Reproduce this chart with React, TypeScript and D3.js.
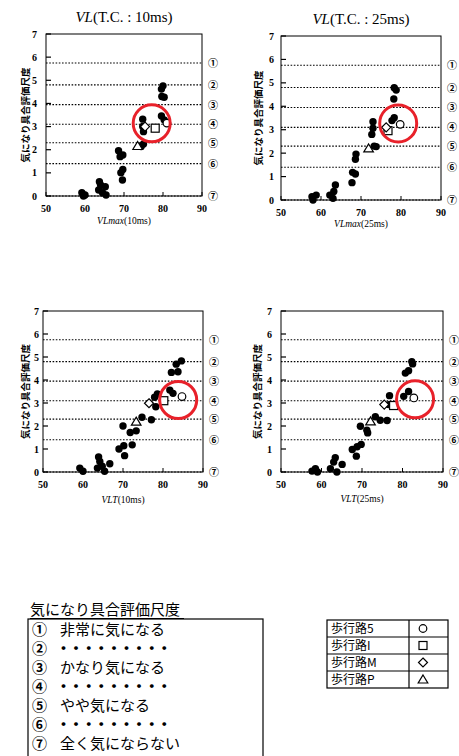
import * as d3 from "d3";

// evaluation levels (dotted lines) and their labels
const levels = [5.75, 4.8, 3.95, 3.1, 2.3, 1.4, 0];
const levelLabels = ["①", "②", "③", "④", "⑤", "⑥", "⑦"];
const xTicks = [50, 60, 70, 80, 90];
const yTicks = [0, 1, 2, 3, 4, 5, 6, 7];

// VLmax(10ms)
const p1X = [59.2, 60.0, 59.6, 63.7, 64.0, 63.5, 64.5, 65.4, 65.2, 68.6, 69.7, 69.0, 69.2, 69.7, 69.6, 74.8, 74.8, 75.0, 75.0, 74.4, 80.0, 79.6, 79.7, 80.3, 79.6, 80.3];
const p1Y = [0.14, 0.04, 0.0, 0.62, 0.48, 0.26, 0.14, 0.04, 0.4, 1.96, 1.77, 1.7, 1.01, 1.15, 0.69, 3.32, 3.0, 2.78, 2.25, 2.14, 4.76, 4.62, 4.3, 4.27, 3.46, 3.29];
// VLmax(25ms)
const p2X = [57.75, 58.8, 58.0, 62.2, 63.0, 63.6, 63.2, 67.75, 67.9, 68.6, 68.6, 68.75, 73.0, 73.0, 72.7, 73.3, 73.8, 78.3, 78.8, 78.2, 78.3, 77.75];
const p2Y = [0.14, 0.21, 0.0, 0.21, 0.07, 0.64, 0.36, 0.74, 1.18, 1.11, 1.74, 1.96, 3.34, 3.06, 2.8, 2.3, 2.28, 4.79, 4.69, 4.31, 3.51, 3.39];
// VLT(10ms)
const p3X = [59.2, 60.0, 63.9, 64.2, 63.6, 65.4, 66.7, 64.8, 70.0, 70.2, 69.0, 70.4, 71.8, 72.3, 73.3, 74.75, 77.1, 78.2, 77.9, 78.6, 82.1, 83.75, 83.3, 84.6, 81.7, 82.5];
const p3Y = [0.17, 0.03, 0.65, 0.46, 0.17, 0.03, 0.36, 0.25, 2.0, 1.14, 1.0, 0.71, 1.72, 1.18, 1.79, 2.38, 2.27, 2.84, 3.25, 3.39, 4.33, 4.36, 4.69, 4.83, 3.56, 3.42];
// VLT(25ms)
const p4X = [57.65, 58.5, 59.0, 62.2, 63.4, 63.0, 63.8, 65.1, 67.6, 68.6, 68.8, 69.8, 69.6, 71.2, 71.4, 73.3, 74.5, 76.2, 76.6, 76.8, 80.3, 81.5, 80.7, 81.5, 82.3, 82.5];
const p4Y = [0.04, 0.14, 0.0, 0.14, 0.62, 0.43, 0.0, 0.33, 0.98, 0.69, 1.1, 1.2, 1.99, 1.82, 1.7, 2.4, 2.25, 2.24, 2.93, 3.32, 3.29, 3.5, 4.3, 4.4, 4.8, 4.7];

// open markers: [x, y] for 歩行路5 (circle), I (square), M (diamond), P (triangle)
const p1Open = [[81.0, 3.15], [78.0, 2.93], [75.4, 3.0], [73.5, 2.16]];
const p2Open = [[79.8, 3.23], [76.75, 2.96], [76.3, 3.1], [71.9, 2.2]];
const p3Open = [[84.75, 3.28], [80.2, 3.1], [76.5, 2.99], [73.3, 2.19]];
const p4Open = [[82.8, 3.22], [77.8, 2.89], [75.5, 2.93], [72.1, 2.2]];

// highlighted region (red ring centres)
const rings = [[77.1, 3.14], [79.3, 3.27], [83.8, 3.13], [83.1, 3.16]];

const scaleItems = ["非常に気になる", "dots", "かなり気になる", "dots", "やや気になる", "dots", "全く気にならない"];
const routeNames = ["歩行路5", "歩行路I", "歩行路M", "歩行路P"];

const serif = "'Liberation Serif', 'DejaVu Serif', serif";
const cjk = "'Noto Sans CJK JP', sans-serif";

function Marker({ kind, x, y }: { kind: number; x: number; y: number }) {
  const st = { fill: "#fff", stroke: "#000", strokeWidth: 1.2 };
  if (kind === 0) return <circle cx={x} cy={y} r={3.8} {...st} />;
  if (kind === 1) return <rect x={x - 4} y={y - 4} width={8} height={8} {...st} />;
  if (kind === 2) return <path d={`M${x},${y - 4.5}L${x + 4.5},${y}L${x},${y + 4.5}L${x - 4.5},${y}Z`} {...st} />;
  return <path d={`M${x},${y - 4.5}L${x + 4.8},${y + 3.5}L${x - 4.8},${y + 3.5}Z`} {...st} />;
}

interface PanelProps {
  left: number; right: number; top: number; bottom: number;
  xs: number[]; ys: number[]; open: number[][]; ring: number[];
  title?: string; xName: string; xSub: string;
  tickDx: number; labelDx: number; xLabelDy: number;
}

function Panel(p: PanelProps) {
  const x = d3.scaleLinear().domain([50, 90]).range([p.left, p.right]);
  const y = d3.scaleLinear().domain([0, 7]).range([p.bottom, p.top]);
  const cx = (p.left + p.right) / 2;
  const cy = (p.top + p.bottom) / 2;
  return (
    <g>
      {p.title && (
        <text x={cx} y={p.top - 12} textAnchor="middle" fontFamily={serif} fontSize={15}>
          <tspan fontStyle="italic">VL</tspan>
          <tspan>{p.title}</tspan>
        </text>
      )}
      {levels.map((v, i) => (
        <g key={i}>
          <line x1={p.left} x2={p.right} y1={y(v)} y2={y(v)} stroke="#000" strokeWidth={1.1} strokeDasharray="1.6,1.6" />
          <text x={p.right + 11} y={y(v) + 4} textAnchor="middle" fontFamily={cjk} fontWeight="bold" fontSize={10}>{levelLabels[i]}</text>
        </g>
      ))}
      <rect x={p.left} y={p.top} width={p.right - p.left} height={p.bottom - p.top} fill="none" stroke="#000" strokeWidth={1} />
      {yTicks.map((t) => (
        <g key={t}>
          <line x1={p.left} x2={p.left + 5} y1={y(t)} y2={y(t)} stroke="#000" strokeWidth={1.2} />
          <text x={p.left - p.tickDx} y={y(t) + 3.5} textAnchor="end" fontFamily={serif} fontWeight="bold" fontSize={10}>{t}</text>
        </g>
      ))}
      {xTicks.map((t) => (
        <g key={t}>
          <line x1={x(t)} x2={x(t)} y1={p.bottom} y2={p.bottom - 4} stroke="#000" strokeWidth={1} />
          <text x={x(t)} y={p.bottom + 16} textAnchor="middle" fontFamily={serif} fontWeight="bold" fontSize={10}>{t}</text>
        </g>
      ))}
      <text x={cx} y={p.bottom + p.xLabelDy} textAnchor="middle" fontFamily={serif} fontSize={9.5}>
        <tspan fontStyle="italic">{p.xName}</tspan>
        <tspan>{p.xSub}</tspan>
      </text>
      <text transform={`translate(${p.left - p.labelDx},${cy}) rotate(-90)`} textAnchor="middle" dominantBaseline="central" fontFamily={cjk} fontSize={9.5} fontWeight="bold">
        気になり具合評価尺度
      </text>
      {p.xs.map((v, i) => (
        <circle key={i} cx={x(v)} cy={y(p.ys[i])} r={3.7} fill="#000" />
      ))}
      {p.open.map((d, i) => (
        <Marker key={i} kind={i} x={x(d[0])} y={y(d[1])} />
      ))}
      <circle cx={x(p.ring[0])} cy={y(p.ring[1])} r={18.5} fill="none" stroke="#e8212a" strokeWidth={3} />
    </g>
  );
}

export default function App() {
  return (
    <svg width={459} height={756} style={{ position: "absolute", left: 0, top: 0, background: "#fff" }}>
      <rect width={459} height={756} fill="#fff" />
      <Panel left={46} right={202} top={34} bottom={196} xs={p1X} ys={p1Y} open={p1Open} ring={rings[0]}
        title="(T.C. : 10ms)" xName="VLmax" xSub="(10ms)" tickDx={9} labelDx={21} xLabelDy={28} />
      <Panel left={281} right={441} top={36} bottom={200} xs={p2X} ys={p2Y} open={p2Open} ring={rings[1]}
        title="(T.C. : 25ms)" xName="VLmax" xSub="(25ms)" tickDx={7} labelDx={23} xLabelDy={27} />
      <Panel left={43} right={203} top={311} bottom={472} xs={p3X} ys={p3Y} open={p3Open} ring={rings[2]}
        xName="VLT" xSub="(10ms)" tickDx={4} labelDx={18} xLabelDy={31} />
      <Panel left={281} right={443} top={311} bottom={472} xs={p4X} ys={p4Y} open={p4Open} ring={rings[3]}
        xName="VLT" xSub="(25ms)" tickDx={9} labelDx={24} xLabelDy={30} />

      {/* evaluation scale legend */}
      <text x={30} y={615} fontFamily={cjk} fontSize={15}>気になり具合評価尺度</text>
      <line x1={30} x2={184} y1={618.5} y2={618.5} stroke="#000" strokeWidth={1.2} />
      <rect x={28} y={619} width={235} height={142} fill="none" stroke="#000" strokeWidth={1.2} />
      {scaleItems.map((s, i) => (
        <g key={i}>
          <text x={32} y={635 + i * 19} fontFamily={cjk} fontWeight="bold" fontSize={15}>{levelLabels[i]}</text>
          {s === "dots" ? (
            <text x={56} y={635 + i * 19} fontFamily={cjk} fontWeight="bold" fontSize={15} letterSpacing={-2.4}>・・・・・・・・・</text>
          ) : (
            <text x={60} y={635 + i * 19} fontFamily={cjk} fontSize={15}>{s}</text>
          )}
        </g>
      ))}

      {/* route legend */}
      <rect x={327} y={620} width={121} height={68} fill="none" stroke="#000" strokeWidth={1.2} />
      <line x1={409} x2={409} y1={620} y2={688} stroke="#000" strokeWidth={1.2} />
      {routeNames.map((r, i) => (
        <g key={i}>
          {i > 0 && <line x1={327} x2={448} y1={620 + i * 17} y2={620 + i * 17} stroke="#000" strokeWidth={1.2} />}
          <text x={331} y={633 + i * 17} fontFamily={cjk} fontSize={12}>{r}</text>
          <Marker kind={i} x={423} y={628.5 + i * 17} />
        </g>
      ))}
    </svg>
  );
}
